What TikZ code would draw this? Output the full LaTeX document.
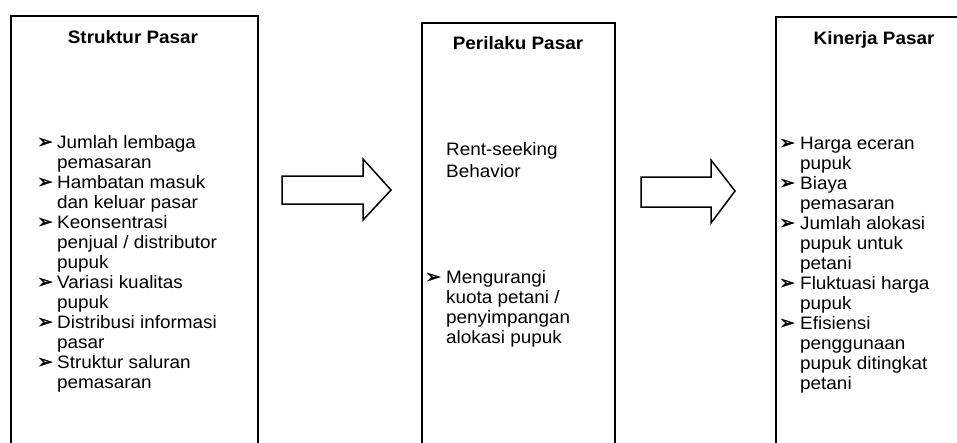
\documentclass[tikz,border=0pt]{standalone}
\usepackage{fontspec}
\setmainfont[FakeStretch=1.05]{Liberation Sans}
\newfontfamily\bulletfont[FakeBold=1.5]{DejaVu Sans}
\begin{document}
\begin{tikzpicture}[x=1pt,y=-1pt,
  panel/.style={draw=black,line width=1.6pt,rectangle,anchor=north west,inner sep=0pt},
  ttl/.style={font=\fontsize{18}{20}\selectfont\bfseries,anchor=base,inner sep=0pt},
  body/.style={font=\fontsize{18}{20}\selectfont,anchor=base west,inner sep=0pt},
  bul/.style={font=\fontsize{19}{20}\bulletfont,anchor=base west,inner sep=0pt},
  blockarrow/.style={draw=black,line width=1.5pt,line join=miter,fill=white}]
\useasboundingbox (0,0) rectangle (957,442);
% panels
\node[panel,minimum width=247pt,minimum height=460pt] (S) at (10,15) {};
\node[panel,minimum width=193pt,minimum height=460pt] (P) at (421,22) {};
\node[panel,minimum width=220pt,minimum height=460pt] (K) at (775,16) {};
% titles
\node[ttl] (St) at (133,43) {Struktur Pasar};
\node[ttl] (Pt) at (518,49) {Perilaku Pasar};
\node[ttl] (Kt) at (874,44) {Kinerja Pasar};
% block arrows
\draw[blockarrow] (282,176) -- (363,176) -- (363,159) -- (391,190) -- (363,220) -- (363,204) -- (282,204) -- cycle;
\draw[blockarrow] (641,177) -- (711,177) -- (711,160) -- (735,191) -- (711,223) -- (711,207) -- (641,207) -- cycle;
% Struktur list
\foreach \t [count=\i] in {Jumlah lembaga,pemasaran,Hambatan masuk,dan keluar pasar,Keonsentrasi,penjual / distributor,pupuk,Variasi kualitas,pupuk,Distribusi informasi,pasar,Struktur saluran,pemasaran}
  \node[body] (sa\i) at (57,{148+20*(\i-1)}) {\t};
\foreach \i in {1,3,5,8,10,12}
  \node[bul] (sb\i) at (37,{148+20*(\i-1)}) {➢};
% Perilaku
\node[body] (pr1) at (446,155) {Rent-seeking};
\node[body] (pr2) at (446,177) {Behavior};
\foreach \t [count=\i] in {Mengurangi,kuota petani /,penyimpangan,alokasi pupuk}
  \node[body] (pa\i) at (446,{283+20*(\i-1)}) {\t};
\node[bul] (pb1) at (425,283) {➢};
% Kinerja list
\foreach \t [count=\i] in {Harga eceran,pupuk,Biaya,pemasaran,Jumlah alokasi,pupuk untuk,petani,Fluktuasi harga,pupuk,Efisiensi,penggunaan,pupuk ditingkat,petani}
  \node[body] (ka\i) at (800,{149+20*(\i-1)}) {\t};
\foreach \i in {1,3,5,8,10}
  \node[bul] (kb\i) at (779,{149+20*(\i-1)}) {➢};
\end{tikzpicture}
\end{document}
